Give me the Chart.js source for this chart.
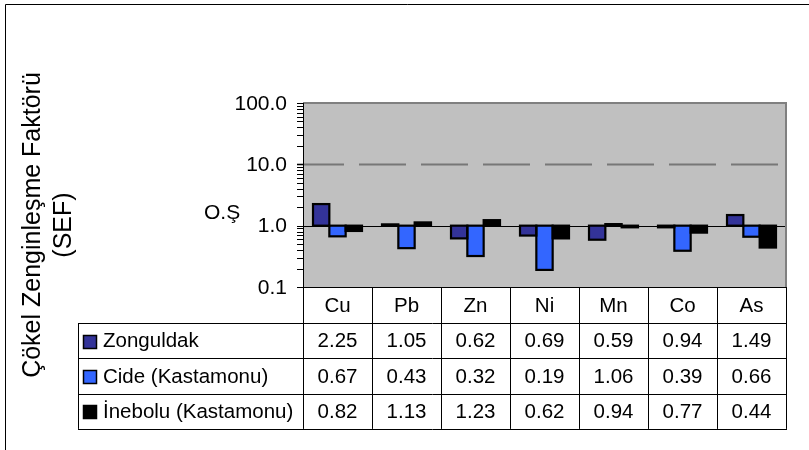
<!DOCTYPE html>
<html><head><meta charset="utf-8">
<script src="https://cdn.jsdelivr.net/npm/chart.js@4/dist/chart.umd.min.js"></script>
<style>html,body{margin:0;padding:0;background:#fff;overflow:hidden}canvas{display:block}</style>
</head><body>
<canvas id="c" width="809" height="450"></canvas>
<script>
const categories = ['Cu', 'Pb', 'Zn', 'Ni', 'Mn', 'Co', 'As'];
const seriesNames = ['Zonguldak', 'Cide (Kastamonu)', 'İnebolu (Kastamonu)'];
const zonguldak = [2.25, 1.05, 0.62, 0.69, 0.59, 0.94, 1.49];
const cide = [0.67, 0.43, 0.32, 0.19, 1.06, 0.39, 0.66];
const inebolu = [0.82, 1.13, 1.23, 0.62, 0.94, 0.77, 0.44];
const yTickValues = [0.1, 1, 10, 100];
const yTickLabels = ['0.1', '1.0', '10.0', '100.0'];
const baseline = 1;
const referenceLine = 10;
const baselineLabel = 'O.Ş';
const yTitle = ['Çökel Zenginleşme Faktörü', '(SEF)'];

const colors = ['#333399', '#3366FF', '#000000'];
const seriesValues = [zonguldak, cide, inebolu];
const FONT = '"Liberation Sans", Arial, sans-serif';

const tablePlugin = {
  id: 'decor',
  beforeDatasetsDraw(chart) {
    const c = chart.ctx, a = chart.chartArea, y = chart.scales.y;
    c.save();
    // outer frame
    c.strokeStyle = '#000'; c.lineWidth = 1;
    c.beginPath(); c.moveTo(5.5, 450); c.lineTo(5.5, 4.5); c.lineTo(809, 4.5); c.stroke();
    // plot background
    c.fillStyle = '#C0C0C0';
    c.fillRect(a.left, a.top, a.right - a.left, a.bottom - a.top);
    // dashed reference line
    const y10 = Math.round(y.getPixelForValue(referenceLine)) + 0.5;
    c.strokeStyle = '#777777'; c.lineWidth = 2; c.setLineDash([47, 15]);
    c.beginPath(); c.moveTo(a.left - 6, y10); c.lineTo(a.right - 4, y10); c.stroke();
    c.setLineDash([]);
    // baseline
    const y1 = Math.round(y.getPixelForValue(baseline)) + 0.5;
    c.strokeStyle = '#000'; c.lineWidth = 1;
    c.beginPath(); c.moveTo(a.left - 6, y1); c.lineTo(a.right, y1); c.stroke();
    c.restore();
  },
  afterDatasetsDraw(chart) {
    const c = chart.ctx, a = chart.chartArea, x = chart.scales.x, y = chart.scales.y;
    c.save();
    // bar outlines centred on the bar edges
    c.strokeStyle = '#000'; c.lineWidth = 2.2;
    chart.data.datasets.forEach((ds, di) => {
      chart.getDatasetMeta(di).data.forEach(el => {
        const p = el.getProps(['x', 'y', 'base', 'width'], true);
        const top = Math.min(p.y, p.base), h = Math.abs(p.base - p.y);
        c.strokeRect(p.x - p.width / 2, top, p.width, h);
      });
    });
    // plot border
    c.strokeStyle = '#808080'; c.lineWidth = 2;
    c.beginPath(); c.moveTo(a.left, a.top); c.lineTo(a.right, a.top); c.lineTo(a.right, a.bottom); c.stroke();
    c.strokeStyle = '#000'; c.lineWidth = 1;
    c.beginPath(); c.moveTo(a.left + 0.5, a.top); c.lineTo(a.left + 0.5, a.bottom); c.stroke();
    // y ticks
    const minor = [];
    for (const d of [0.1, 1, 10]) for (let m = 2; m <= 9; m++) minor.push(m * d);
    c.beginPath();
    for (const v of yTickValues.concat(minor)) {
      const py = Math.round(y.getPixelForValue(v)) + 0.5;
      c.moveTo(a.left - 6, py); c.lineTo(a.left, py);
    }
    c.stroke();
    c.fillStyle = '#000';
    c.font = '21px ' + FONT;
    c.textAlign = 'right'; c.textBaseline = 'middle';
    yTickValues.forEach((v, i) => c.fillText(yTickLabels[i], a.left - 16, y.getPixelForValue(v) + 1));
    // baseline label
    c.textAlign = 'left';
    c.fillText(baselineLabel, 204, y.getPixelForValue(baseline) - 12);
    // table
    c.font = '20.5px ' + FONT;
    const colW = (a.right - a.left) / categories.length;
    const headTop = a.bottom, headBot = a.bottom + 36;
    const rowH = 35.3;
    const tLeft = 78;
    const tBot = headBot + rowH * 3;
    c.strokeStyle = '#000'; c.lineWidth = 1;
    c.beginPath();
    c.moveTo(a.left - 6, headTop + 0.5); c.lineTo(a.right, headTop + 0.5);
    for (let i = 0; i <= categories.length; i++) {
      const px = Math.round(a.left + i * colW) + 0.5;
      c.moveTo(px, headTop); c.lineTo(px, tBot);
    }
    c.moveTo(tLeft + 0.5, headBot); c.lineTo(tLeft + 0.5, tBot);
    for (let r = 0; r <= 3; r++) {
      const py = Math.round(headBot + r * rowH) + 0.5;
      c.moveTo(tLeft, py); c.lineTo(a.right + 1, py);
    }
    c.stroke();
    c.textAlign = 'center'; c.textBaseline = 'middle';
    categories.forEach((cat, i) => c.fillText(cat, x.getPixelForValue(i), (headTop + headBot) / 2 + 1));
    seriesValues.forEach((arr, r) => {
      const cy = headBot + r * rowH + rowH / 2 + 1;
      arr.forEach((v, i) => c.fillText(v.toFixed(2), x.getPixelForValue(i), cy));
      c.textAlign = 'left';
      c.fillText(seriesNames[r], 103, cy);
      c.fillStyle = colors[r];
      c.fillRect(83.5, Math.round(cy - 7) + 0.5, 13, 13);
      c.strokeStyle = '#000'; c.lineWidth = 1.5;
      c.strokeRect(83.5, Math.round(cy - 7) + 0.5, 13, 13);
      c.fillStyle = '#000';
      c.textAlign = 'center';
    });
    // y title
    c.translate(0, 225);
    c.rotate(-Math.PI / 2);
    c.font = '25px ' + FONT;
    c.textAlign = 'center'; c.textBaseline = 'middle';
    c.fillText(yTitle[0], 0, 33);
    c.fillText(yTitle[1], 0, 64);
    c.restore();
  }
};

new Chart(document.getElementById('c'), {
  type: 'bar',
  data: {
    labels: categories,
    datasets: seriesValues.map((arr, i) => ({
      label: seriesNames[i],
      data: arr.map(v => [baseline, v]),
      backgroundColor: colors[i]
    }))
  },
  options: {
    responsive: false,
    animation: false,
    devicePixelRatio: 1,
    layout: { padding: { left: 303, top: 103, right: 23, bottom: 163 } },
    plugins: { legend: { display: false }, tooltip: { enabled: false } },
    datasets: { bar: { categoryPercentage: 0.71, barPercentage: 1, borderWidth: 0, inflateAmount: 0, borderSkipped: false } },
    scales: {
      x: { display: false },
      y: { type: 'logarithmic', display: false, min: 0.1, max: 100 }
    }
  },
  plugins: [tablePlugin]
});
</script>
</body></html>
